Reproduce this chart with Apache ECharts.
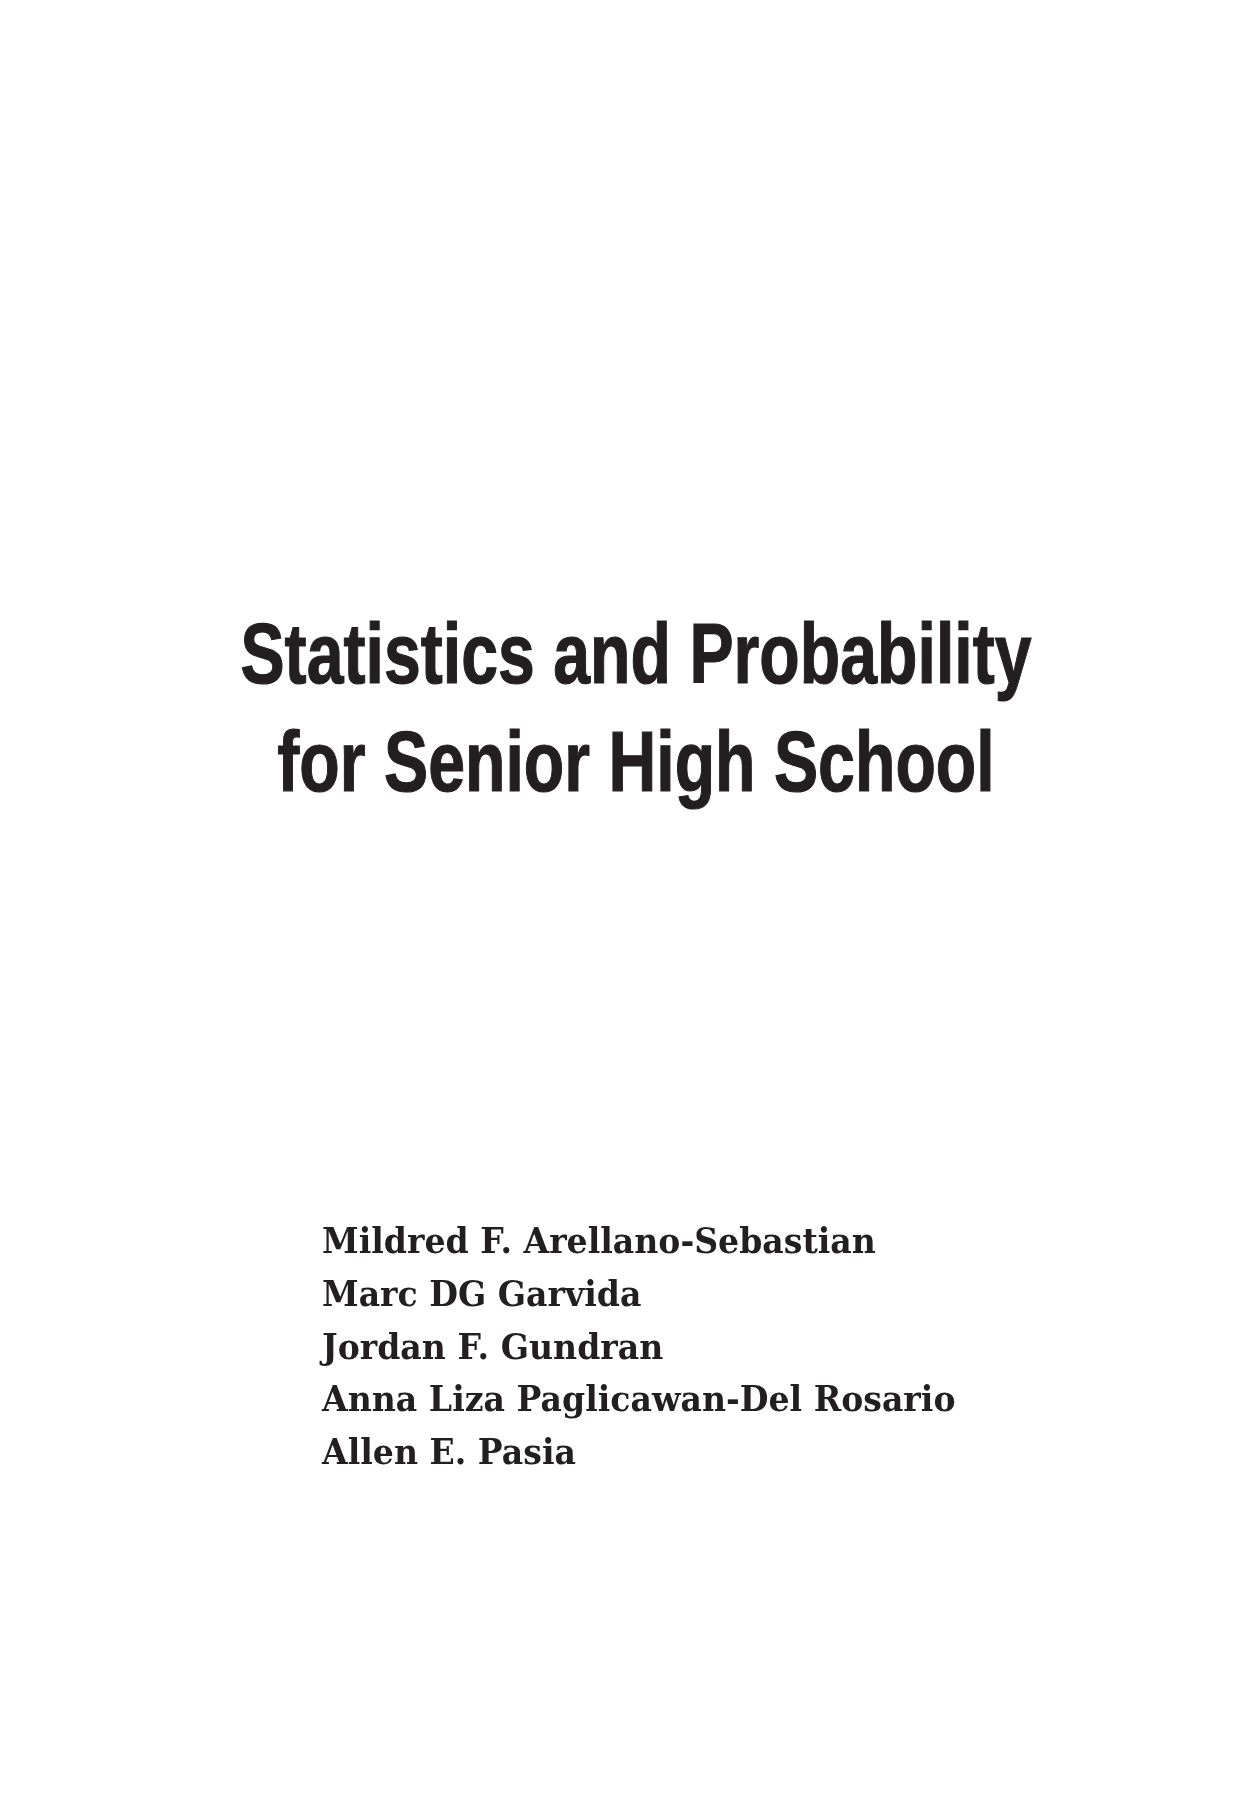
<!DOCTYPE html>
<html>
<head>
<meta charset="utf-8">
<title>Statistics and Probability for Senior High School</title>
<script src="https://cdn.jsdelivr.net/npm/echarts@6/dist/echarts.min.js"></script>
<style>
    html, body { margin: 0; padding: 0; background: #fff; }
    #chart_main { width: 1260px; height: 1800px; }
</style>
</head>
<body>
<div id="chart_main"></div>
<script>
var titleLines = ['Statistics and Probability', 'for Senior High School'];
var authors = [
    'Mildred F. Arellano-Sebastian',
    'Marc DG Garvida',
    'Jordan F. Gundran',
    'Anna Liza Paglicawan-Del Rosario',
    'Allen E. Pasia'
];

(function () {
    var myChart = echarts.init(document.getElementById('chart_main'));
    var ink = '#231f20';
    var elements = [];

    // condensed sans title: no narrow font installed, so squeeze Liberation Sans
    for (var i = 0; i < titleLines.length; i++) {
        elements.push({
            type: 'text',
            x: 636,
            y: 659 + i * 108,
            scaleX: 0.77,
            style: {
                text: titleLines[i],
                fill: ink,
                stroke: ink,
                lineWidth: 1.2,
                font: 'bold 86px "Liberation Sans", Arial, sans-serif',
                align: 'center',
                verticalAlign: 'middle'
            }
        });
    }

    for (var j = 0; j < authors.length; j++) {
        elements.push({
            type: 'text',
            x: 322,
            y: 1244 + j * 52.7,
            scaleX: 0.92,
            style: {
                text: authors[j],
                fill: ink,
                font: 'bold 36px "DejaVu Serif", serif',
                align: 'left',
                verticalAlign: 'middle'
            }
        });
    }

    var option = {
        backgroundColor: '#ffffff',
        graphic: { elements: elements }
    };
    myChart.setOption(option);
})();
</script>
</body>
</html>
